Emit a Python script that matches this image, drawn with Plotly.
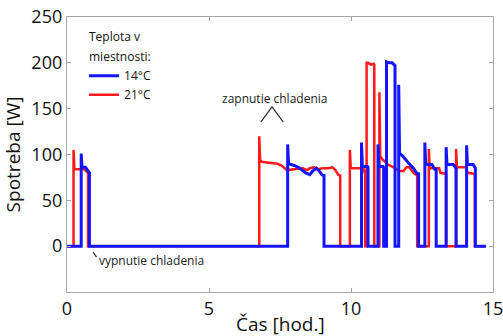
import plotly.graph_objects as go

# 21 °C series (red): time [h], power [W]
t_21 = [0, 0.23, 0.23, 0.26, 0.30, 0.62, 0.70, 0.74, 0.74,
        6.77, 6.77, 6.80, 6.85, 7.10, 7.40, 7.55, 7.75, 8.00, 8.30, 8.45, 8.55, 8.70,
        8.85, 9.00, 9.20, 9.35, 9.45, 9.55, 9.62, 9.62,
        9.96, 9.96, 9.99, 10.05, 10.30, 10.45, 10.50, 10.50,
        10.55, 10.55, 10.60, 10.70, 10.80, 10.82, 10.82,
        11.00, 11.00, 11.03, 11.10, 11.30, 11.50, 11.70, 11.85, 11.95, 12.05, 12.20, 12.30, 12.33, 12.33,
        12.74, 12.74, 12.77, 13.10, 13.15, 13.32, 13.35, 13.35,
        13.70, 13.70, 13.73, 14.05, 14.10, 14.33, 14.36, 14.36, 14.75]
v_21 = [0, 0, 105, 84, 84, 84, 81, 80, 0,
        0, 120, 94, 92, 91, 90, 88, 83, 84, 85, 83, 85, 86,
        84, 85, 85, 86, 83, 78, 77, 0,
        0, 105, 86, 85, 85, 84, 78, 0,
        0, 200, 200, 198, 199, 198, 0,
        0, 168, 98, 95, 89, 86, 82, 82, 86, 86, 80, 77, 77, 0,
        0, 106, 85, 85, 80, 79, 79, 0,
        0, 106, 86, 86, 80, 79, 79, 0, 0]

# 14 °C series (blue)
t_14 = [0, 0.50, 0.50, 0.53, 0.65, 0.72, 0.77, 0.79, 0.79,
        7.77, 7.77, 7.80, 8.00, 8.20, 8.40, 8.55, 8.65, 8.78, 8.88, 8.97, 9.03, 9.05, 9.05,
        10.37, 10.37, 10.40, 10.58, 10.60, 10.60,
        10.95, 10.95, 10.98, 11.13, 11.15, 11.15,
        11.25, 11.25, 11.35, 11.45, 11.52, 11.55, 11.55,
        11.68, 11.68, 11.71, 11.80, 11.90, 12.05, 12.20, 12.33, 12.38, 12.38,
        12.60, 12.60, 12.63, 12.85, 12.95, 13.00, 13.00,
        13.35, 13.35, 13.38, 13.60, 13.68, 13.70, 13.70,
        14.07, 14.07, 14.10, 14.30, 14.36, 14.38, 14.38, 14.75]
v_14 = [0, 0, 101, 86, 86, 83, 80, 80, 0,
        0, 111, 90, 88, 85, 80, 78, 82, 85, 82, 78, 77, 77, 0,
        0, 113, 87, 87, 86, 0,
        0, 111, 87, 87, 86, 0,
        0, 201, 200, 200, 197, 197, 0,
        0, 176, 101, 99, 95, 90, 85, 79, 79, 0,
        0, 113, 89, 89, 84, 84, 0,
        0, 108, 89, 89, 85, 85, 0,
        0, 110, 89, 89, 85, 85, 0, 0]

x_ticks = [0, 5, 10, 15]
y_ticks = [0, 50, 100, 150, 200, 250]

FONT = "Open Sans"
AXIS_GRAY = "#a6a6a6"

fig = go.Figure()
fig.add_trace(go.Scatter(x=t_21, y=v_21, mode="lines", name="21°C",
                         line=dict(color="rgb(255,25,25)", width=2.5)))
fig.add_trace(go.Scatter(x=t_14, y=v_14, mode="lines", name="14°C",
                         line=dict(color="rgb(20,20,255)", width=3)))

axis_common = dict(showline=True, linecolor=AXIS_GRAY, linewidth=1.3, mirror="allticks",
                   ticks="inside", ticklen=4, tickcolor=AXIS_GRAY, showgrid=False,
                   zeroline=False, automargin=False, ticklabeloverflow="allow",
                   tickfont=dict(family=FONT, size=18, color="#111"))

fig.update_xaxes(range=[0, 15], tickvals=x_ticks, **axis_common)
fig.update_yaxes(range=[-50, 250], tickvals=y_ticks,
                 title=dict(text="Spotreba [W]", font=dict(family=FONT, size=19, color="#111")),
                 **axis_common)

# x-axis title
fig.add_annotation(x=0.5, y=-0.118, xref="paper", yref="paper", text="Čas [hod.]",
                   showarrow=False, xanchor="center", yanchor="middle",
                   font=dict(family=FONT, size=19, color="#111"))

# legend heading
fig.add_annotation(x=0.048, y=0.929, xref="paper", yref="paper", text="Teplota v",
                   showarrow=False, xanchor="left", yanchor="middle",
                   font=dict(family=FONT, size=12, color="#111"))
fig.add_annotation(x=0.048, y=0.857, xref="paper", yref="paper", text="miestnosti:",
                   showarrow=False, xanchor="left", yanchor="middle",
                   font=dict(family=FONT, size=12, color="#111"))

fig.add_annotation(x=7.29, y=161, xref="x", yref="y", text="zapnutie chladenia",
                   showarrow=False, font=dict(family=FONT, size=12, color="#222"))
fig.add_shape(type="path", xref="x", yref="y",
              path="M 6.83 135.5 L 7.22 152 L 7.61 135.5",
              line=dict(color="#333", width=1.2))
fig.add_annotation(x=1.05, y=-15.5, xref="x", yref="y", text="vypnutie chladenia",
                   showarrow=False, xanchor="left", font=dict(family=FONT, size=12, color="#222"))
fig.add_shape(type="line", xref="x", yref="y", x0=0.92, y0=-6.5, x1=1.04, y1=-12,
              line=dict(color="#333", width=1.2))

fig.update_layout(
    width=503, height=336,
    margin=dict(l=67, r=10, t=17, b=44),
    paper_bgcolor="white", plot_bgcolor="white",
    showlegend=True,
    legend=dict(x=0.04, y=0.839, xanchor="left", yanchor="top",
                traceorder="reversed", bgcolor="rgba(0,0,0,0)",
                font=dict(family=FONT, size=12, color="#111"),
                itemwidth=30, tracegroupgap=0),
)

fig.write_html("out.html")
